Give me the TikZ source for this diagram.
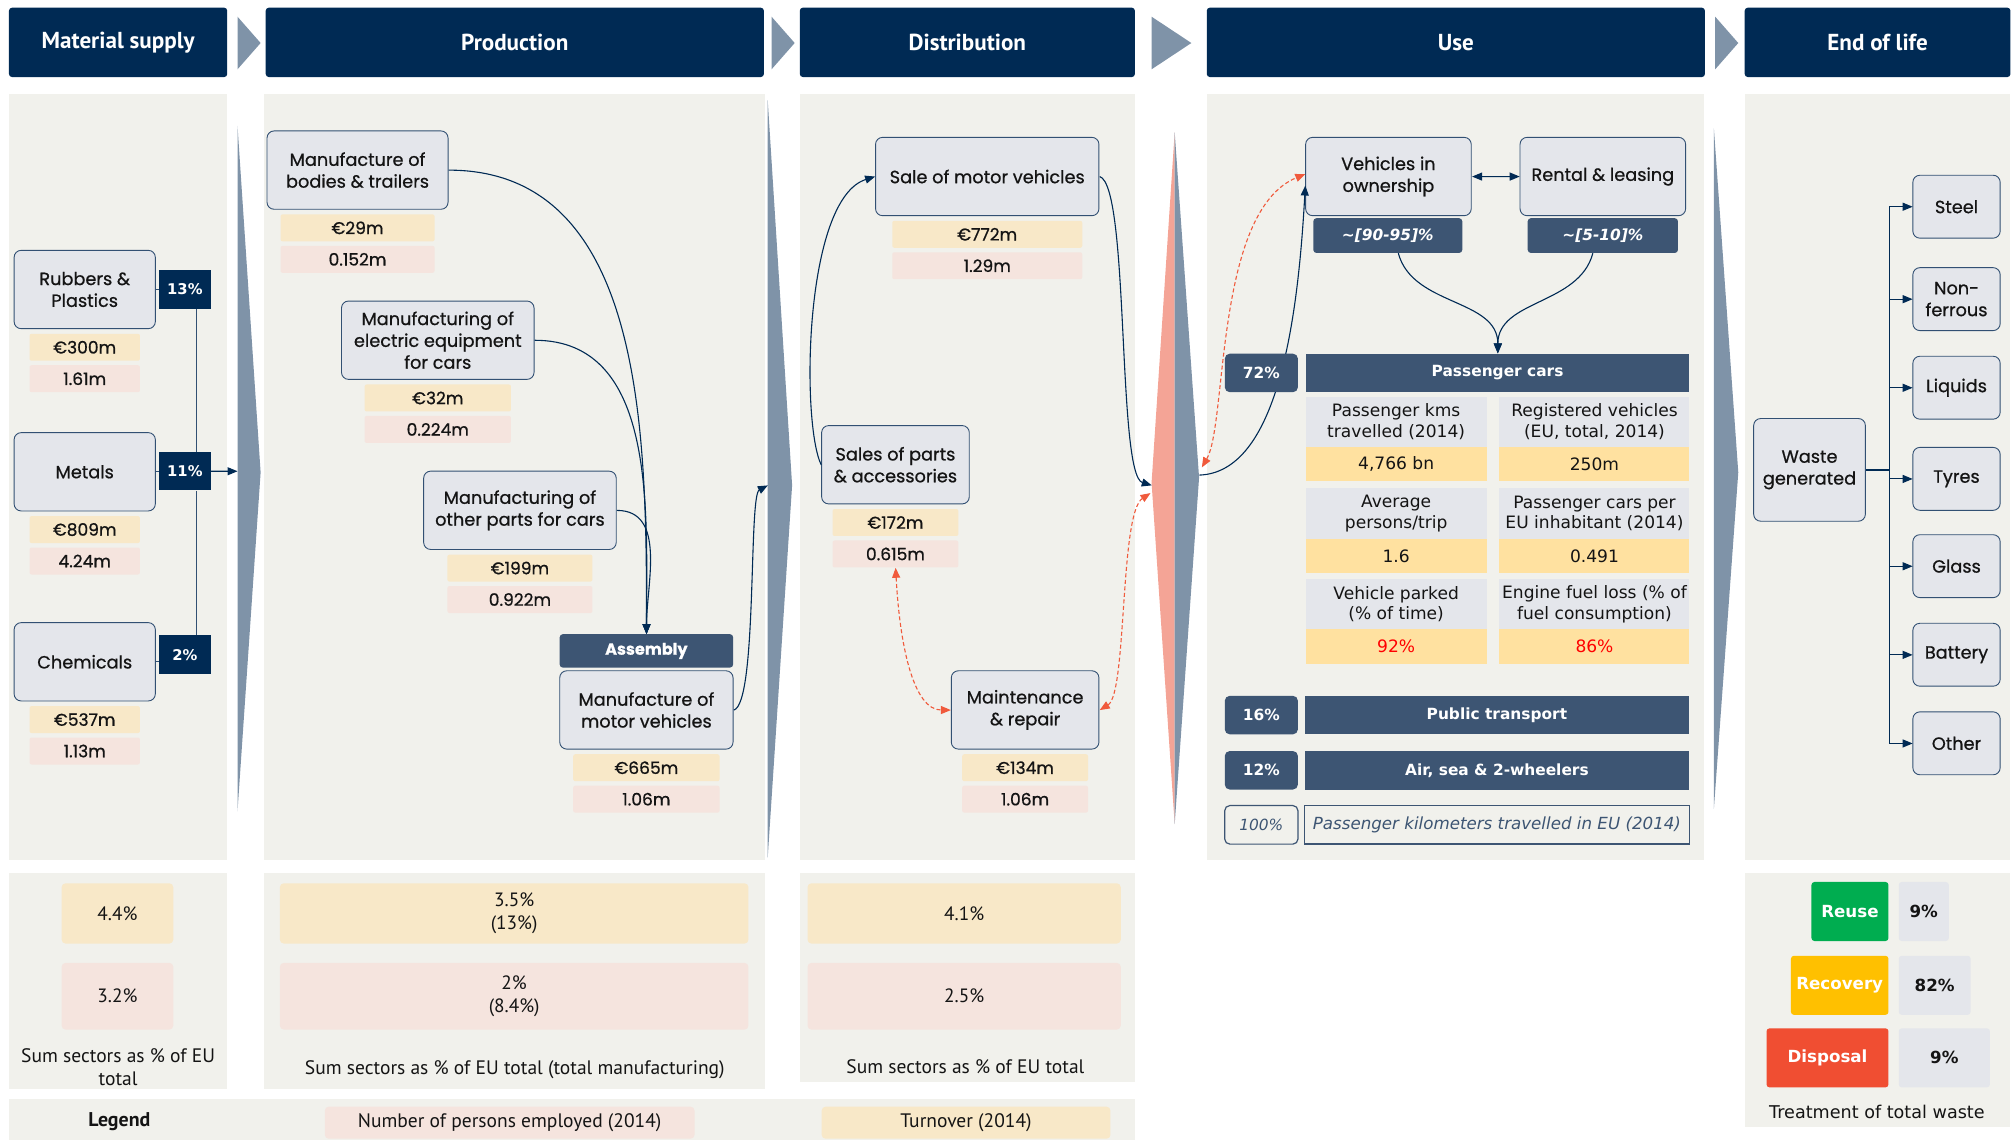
\documentclass[tikz,border=0pt]{standalone}
\usepackage{fontspec}
\setmainfont{PT Sans}
\newfontfamily\boxfont[FakeBold=0.7]{Poppins}
\newfontfamily\datafont{DejaVu Sans}
\usetikzlibrary{arrows.meta}

\definecolor{navy}{RGB}{0,42,84}
\definecolor{slate}{RGB}{61,85,115}
\definecolor{panelbg}{RGB}{241,241,236}
\definecolor{boxfill}{RGB}{228,230,235}
\definecolor{boxline}{RGB}{50,80,115}
\definecolor{wheat}{RGB}{248,232,200}
\definecolor{blush}{RGB}{245,228,222}
\definecolor{cream}{RGB}{255,225,160}
\definecolor{spikegray}{RGB}{127,147,168}
\definecolor{salmon}{RGB}{244,164,150}
\definecolor{arrowred}{RGB}{240,90,60}
\definecolor{alert}{RGB}{255,0,0}
\definecolor{ink}{RGB}{20,20,20}
\definecolor{reusegreen}{RGB}{0,173,80}
\definecolor{recamber}{RGB}{255,192,0}
\definecolor{disred}{RGB}{240,78,50}

\tikzset{
  phase/.style={fill=navy, text=white, rounded corners=3pt, minimum height=54pt, inner sep=0pt, font=\bfseries\fontsize{18}{20}\selectfont},
  stage/.style={draw=boxline, fill=boxfill, line width=0.9pt, rounded corners=7pt, align=center, inner sep=0pt, text=ink, font=\boxfont\fontsize{13.8}{17}\selectfont},
  turnover/.style={fill=wheat, rounded corners=2pt, minimum height=21pt, inner sep=0pt, text=ink, font=\boxfont\fontsize{13.3}{15}\selectfont},
  persons/.style={turnover, fill=blush},
  share/.style={fill=navy, text=white, minimum width=40pt, minimum height=30pt, inner sep=0pt, font=\datafont\bfseries\fontsize{11.5}{13}\selectfont},
  tag/.style={fill=slate, text=white, rounded corners=5pt, minimum width=57pt, minimum height=30pt, inner sep=0pt, font=\datafont\bfseries\fontsize{12}{14}\selectfont},
  bar/.style={fill=slate, text=white, minimum width=299pt, minimum height=30pt, inner sep=0pt, font=\datafont\bfseries\fontsize{12}{14}\selectfont},
  metric/.style={fill=boxfill, minimum height=39pt, inner sep=0pt, align=center, text=ink, font=\datafont\fontsize{13.3}{16}\selectfont},
  amount/.style={metric, fill=cream, minimum height=27pt},
  sumbox/.style={rounded corners=4pt, inner sep=0pt, align=center, text=ink, font=\fontsize{15}{18}\selectfont},
  caption/.style={align=center, text=ink, font=\fontsize{15.2}{18}\selectfont},
  treat/.style={rounded corners=3pt, minimum height=46pt, inner sep=0pt, text=white, font=\datafont\bfseries\fontsize{13}{15}\selectfont},
  rate/.style={fill=boxfill, rounded corners=3pt, minimum height=46pt, inner sep=0pt, text=ink, font=\datafont\bfseries\fontsize{13}{15}\selectfont},
  flow/.style={draw=navy, line width=1.1pt, -{Triangle[length=10pt,width=8pt]}},
  twoway/.style={flow, {Triangle[length=10pt,width=8pt]}-{Triangle[length=10pt,width=8pt]}},
  service/.style={draw=arrowred, line width=1.1pt, dash pattern=on 4pt off 2.5pt, {Triangle[length=10pt,width=8pt]}-{Triangle[length=10pt,width=8pt]}},
}

\begin{document}
\begin{tikzpicture}[x=1pt, y=-1pt, scale=1.2838, every node/.append style={transform shape}]
    \useasboundingbox (0,0) rectangle (1568,888);

    % Draw the panel backgrounds
    \foreach \xa/\xb in {7/177, 206/596, 623/884, 940/1327, 1359/1566}
        \fill[panelbg] (\xa,73) rectangle (\xb,670);
    \foreach \xa/\xb/\yb in {7/177/848, 206/596/848, 623/884/843, 1359/1566/878}
        \fill[panelbg] (\xa,680) rectangle (\xb,\yb);
    \fill[panelbg] (7,856) rectangle (884,888);

    % Draw the header boxes and the small arrows between them
    \foreach \n/\x/\w/\txt in {hMat/92/170/Material supply, hProd/401/388/Production, hDist/753.5/261/Distribution, hUse/1134/388/Use, hEol/1462.5/207/End of life}
        \node[phase, minimum width=\w pt] (\n) at (\x,33) {\txt};
    \foreach \x/\dx in {185/18, 601/18, 897/31, 1336/18}
        \fill[spikegray] (\x,13) -- (\x+\dx,33.5) -- (\x,54) -- cycle;

    % Draw the big arrows between the stages
    \fill[spikegray] (185,98) -- (203,368) -- (185,632) -- cycle;
    \fill[spikegray] (598,78) -- (617,378) -- (598,668) -- cycle;
    \fill[salmon] (915,103) -- (897,376) -- (915,642) -- cycle;
    \fill[spikegray] (915,103) -- (934,372) -- (915,642) -- cycle;
    \fill[spikegray] (1335,100) -- (1354,368) -- (1335,630) -- cycle;
    \coordinate (toProd) at (185,367);
    \coordinate (toDist) at (598,378);
    \coordinate (toUse) at (897,378);
    \coordinate (toUseB) at (896,384);
    \coordinate (fromUse) at (934,370);
    \coordinate (fromUseB) at (936,364);

    % Draw the sector boxes with turnover and employment
    \foreach \n/\txt/\x/\y/\w/\lw/\e/\p in {%
        rub/{Rubbers \&\\Plastics}/66/225.5/110/86/300/1.61,%
        met/Metals/66/367.5/110/86/809/4.24,%
        chem/Chemicals/66/515.5/110/86/537/1.13,%
        body/{Manufacture of\\bodies \& trailers}/278.5/132.5/141/120/29/0.152,%
        elec/{Manufacturing of\\electric equipment\\for cars}/341/265/150/114/32/0.224,%
        part/{Manufacturing of\\other parts for cars}/405/397.5/150/113/199/0.922,%
        motor/{Manufacture of\\motor vehicles}/503.5/553/135/114/665/1.06,%
        sale/{Sale of motor vehicles}/769/137.5/174/148/772/1.29,%
        spare/{Sales of parts\\\& accessories}/697.5/362/115/98/172/0.615,%
        maint/{Maintenance\\\& repair}/798.5/553/115/98/134/1.06} {
        \node[stage, minimum width=\w pt, minimum height=61pt] (\n) at (\x,\y) {\txt};
        \node[turnover, minimum width=\lw pt] (\n-eur) at (\x,\y+45) {€\e m};
        \node[persons, minimum width=\lw pt] (\n-emp) at (\x,\y+69.5) {\p m};
    }

    % Material shares going into production
    \foreach \n/\s/\y in {rub/13/225.5, met/11/367, chem/2/510} {
        \node[share] (\n-pct) at (144,\y) {\s\%};
        \draw[boxline, line width=0.9pt] (\n.east) -- (\n.east -| \n-pct.west);
    }
    \draw[boxline, line width=0.9pt] ([xshift=9pt]rub-pct.south) -- ([xshift=9pt]met-pct.north);
    \draw[boxline, line width=0.9pt] ([xshift=9pt]met-pct.south) -- ([xshift=9pt]chem-pct.north);
    \draw[flow] (met-pct) -- (toProd);

    % Assembly
    \node[tag, rounded corners=3pt, minimum width=135pt, minimum height=26pt, font=\boxfont\bfseries\fontsize{12.5}{14}\selectfont] (asm) at (503.5,507) {Assembly};
    \foreach \n in {body, elec, part}
        \draw[flow] (\n.east) to[out=0, in=90] (asm.north);
    \draw[flow] (motor.east) .. controls (590,548) and (583,386) .. (toDist);

    % Distribution links
    \draw[flow] (spare.west) .. controls (624,330) and (626,155) .. (sale.west);
    \draw[flow] (sale.east) .. controls (880,145) and (870,370) .. (toUse);
    \draw[service] (spare-emp.south) .. controls (701,505) and (712,553) .. (maint.west);
    \draw[service] (maint.east) .. controls (878,540) and (872,400) .. (toUseB);

    % Use: ownership and rental
    \node[stage, minimum width=129pt, minimum height=61pt] (own) at (1081.5,137.5) {Vehicles in\\ownership};
    \node[stage, minimum width=129pt, minimum height=61pt] (rent) at (1248.5,137.5) {Rental \& leasing};
    \node[tag, rounded corners=3pt, minimum width=116pt, minimum height=27pt, font=\datafont\bfseries\itshape\fontsize{12}{14}\selectfont] (own-pct) at (1081,183.5) {\textasciitilde[90-95]\%};
    \node[tag, rounded corners=3pt, minimum width=117pt, minimum height=27pt, font=\datafont\bfseries\itshape\fontsize{12}{14}\selectfont] (rent-pct) at (1248.5,183.5) {\textasciitilde[5-10]\%};
    \draw[twoway] (own) -- (rent);
    \node[bar] (cars) at (1166.5,290.5) {Passenger cars};
    \draw[flow] ([xshift=8pt]own-pct.south) to[out=-75, in=90] (cars.north);
    \draw[flow] ([xshift=-8pt]rent-pct.south) to[out=-105, in=90] (cars.north);
    \draw[flow] (fromUse) .. controls (995,368) and (1011,250) .. ([yshift=-7pt]own.west);
    \draw[service] (fromUseB) .. controls (956,330) and (946,165) .. ([yshift=2pt]own.west);
    \node[tag] (cars-pct) at (982.5,290.5) {72\%};

    % Passenger car figures
    \foreach \na/\nb/\ly/\vy/\la/\va/\lb/\vb in {%
        km/reg/328.5/361.5/{Passenger kms\\travelled (2014)}/{4,766 bn}/{Registered vehicles\\(EU, total, 2014)}/250m,%
        avg/inh/400/433/{Average\\persons/trip}/1.6/{Passenger cars per\\EU inhabitant (2014)}/0.491,%
        park/fuel/470.5/503.5/{Vehicle parked\\(\% of time)}/{\textcolor{alert}{92\%}}/{Engine fuel loss (\% of\\fuel consumption)}/{\textcolor{alert}{86\%}}} {
        \node[metric, minimum width=141pt] (\na) at (1087.5,\ly) {\la};
        \node[amount, minimum width=141pt] (\na-val) at (1087.5,\vy) {\va};
        \node[metric, minimum width=148pt] (\nb) at (1242,\ly) {\lb};
        \node[amount, minimum width=148pt] (\nb-val) at (1242,\vy) {\vb};
    }

    % Other transport modes
    \node[tag] (bus-pct) at (982.5,557) {16\%};
    \node[bar] (bus) at (1166,557) {Public transport};
    \node[tag] (misc-pct) at (982.5,600) {12\%};
    \node[bar] (misc) at (1166,600) {Air, sea \& 2-wheelers};
    \node[tag, fill=panelbg, draw=slate, line width=1.2pt, text=slate, font=\datafont\itshape\fontsize{12}{14}\selectfont] (all-pct) at (982.5,642.5) {100\%};
    \node[bar, fill=panelbg, draw=slate, line width=1.4pt, text=slate, minimum width=300pt, font=\datafont\itshape\fontsize{13}{15}\selectfont] (all) at (1166,642.5) {Passenger kilometers travelled in EU (2014)};

    % End of life
    \node[stage, minimum width=87pt, minimum height=80pt] (waste) at (1409.5,366) {Waste\\generated};
    \foreach \n/\txt/\y in {steel/Steel/161, nonfe/{Non-\\ferrous}/233, liquid/Liquids/302, tyre/Tyres/373, glass/Glass/441, battery/Battery/510, rest/Other/579} {
        \node[stage, minimum width=68pt, minimum height=49pt] (\n) at (1524,\y) {\txt};
        \draw[flow] (waste.east) -- ++(18,0) |- (\n.west);
    }

    % Sums as share of EU total
    \foreach \n/\x/\w/\e/\p in {mat/91.5/87/4.4\%/3.2\%, prod/400.5/365/{3.5\%\\(13\%)}/{2\%\\(8.4\%)}, dist/751/244/4.1\%/2.5\%} {
        \node[sumbox, fill=wheat, minimum width=\w pt, minimum height=47pt] (\n-eur) at (\x,711.5) {\e};
        \node[sumbox, fill=blush, minimum width=\w pt, minimum height=52pt] (\n-emp) at (\x,776) {\p};
    }
    \node[caption] (mat-cap) at (92,831) {Sum sectors as \% of EU\\total};
    \node[caption] (prod-cap) at (401,833) {Sum sectors as \% of EU total (total manufacturing)};
    \node[caption] (dist-cap) at (752,831) {Sum sectors as \% of EU total};

    % Treatment of waste
    \foreach \n/\txt/\col/\x/\w/\y/\val/\vx/\vw in {reuse/Reuse/reusegreen/1441/60/710/9/1498.5/39, recovery/Recovery/recamber/1433/76/767.5/82/1507/56, disposal/Disposal/disred/1423.5/95/824/9/1514.5/71} {
        \node[treat, fill=\col, minimum width=\w pt] (\n) at (\x,\y) {\txt};
        \node[rate, minimum width=\vw pt] (\n-pct) at (\vx,\y) {\val\%};
    }
    \node[text=ink, font=\datafont\fontsize{13.7}{16}\selectfont] (waste-cap) at (1462,866) {Treatment of total waste};

    % Legend
    \node[text=ink, font=\bfseries\fontsize{15.5}{18}\selectfont] (legend) at (93,874) {Legend};
    \node[sumbox, fill=blush, minimum width=288pt, minimum height=25pt, font=\fontsize{15.2}{17}\selectfont] (leg-emp) at (397,874.5) {Number of persons employed (2014)};
    \node[sumbox, fill=wheat, minimum width=225pt, minimum height=25pt, font=\fontsize{15.2}{17}\selectfont] (leg-eur) at (752.5,874.5) {Turnover (2014)};
\end{tikzpicture}
\end{document}
